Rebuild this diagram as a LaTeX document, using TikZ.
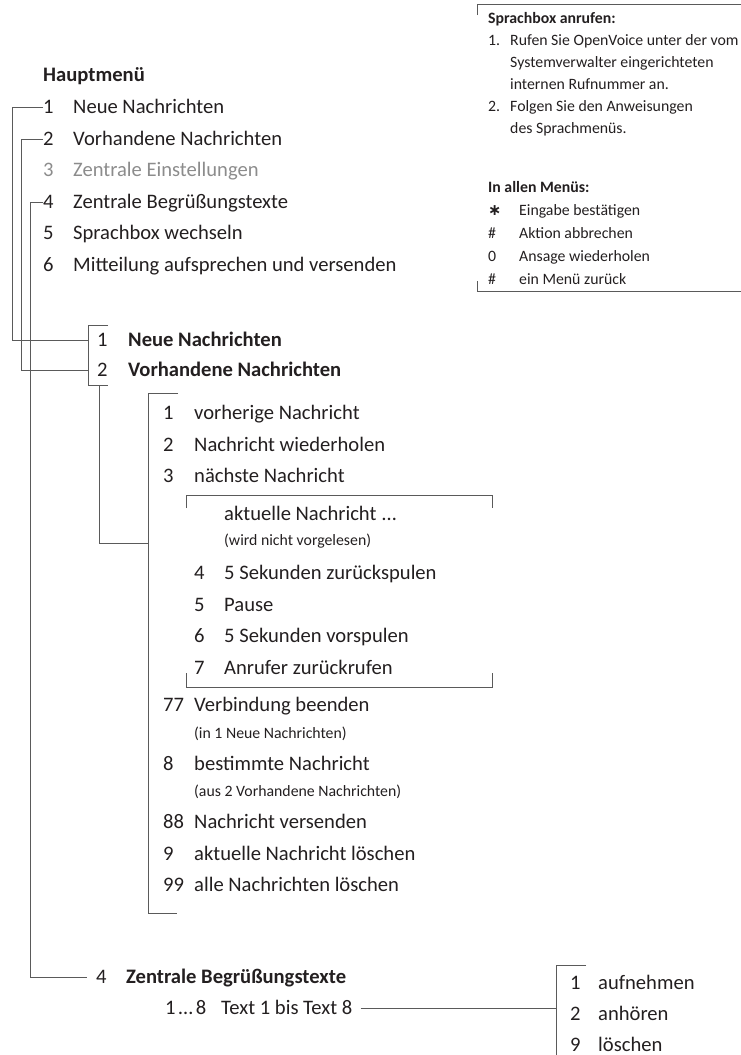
\documentclass[tikz,border=0pt]{standalone}
\usepackage{fontspec}
\setmainfont{Carlito}
\newfontfamily\symfont{DejaVu Sans}
\definecolor{ink}{HTML}{231F20}
\definecolor{rulegrey}{HTML}{5A5A5A}
\definecolor{greyed}{HTML}{8C8C8C}
\begin{document}
\begin{tikzpicture}[x=1pt,y=-1pt,
    every node/.style={inner sep=0pt,text=ink},
    entry/.style={anchor=west,text height=12pt,text depth=0pt,
      font=\fontsize{20.6}{24}\selectfont},
    head/.style={entry,font=\fontsize{20.6}{24}\selectfont\bfseries},
    note/.style={anchor=base west,font=\fontsize{15.8}{19}\selectfont},
    boxhead/.style={note,font=\fontsize{15.8}{19}\selectfont\bfseries},
    wire/.style={draw=rulegrey,line width=0.9pt}]
  \useasboundingbox (0,0) rectangle (740,1055);
  % main menu
  \draw
    (43,75.7) node[head] (hm){Hauptmenü}
    (43,107.5) node[entry] (m1n){1}  (73,107.5) node[entry] (m1){Neue Nachrichten}
    (43,139.1) node[entry] (m2n){2}  (73,139.1) node[entry] (m2){Vorhandene Nachrichten}
    (43,170.7) node[entry,text=greyed] (m3n){3}  (73,170.7) node[entry,text=greyed] (m3){Zentrale Einstellungen}
    (43,202.3) node[entry] (m4n){4}  (73,202.3) node[entry] (m4){Zentrale Begrüßungstexte}
    (43,233.9) node[entry] (m5n){5}  (73,233.9) node[entry] (m5){Sprachbox wechseln}
    (43,265.5) node[entry] (m6n){6}  (73,265.5) node[entry] (m6){Mitteilung aufsprechen und versenden};
  % info box
  \draw
    (488,23) node[boxhead] (bh1){Sprachbox anrufen:}
    (488,45) node[note] (b1n){1.}  (510,45) node[note] (b1){Rufen Sie OpenVoice unter der vom}
    (510,67) node[note] (b1b){Systemverwalter eingerichteten}
    (510,89) node[note] (b1c){internen Rufnummer an.}
    (488,111) node[note] (b2n){2.}  (510,111) node[note] (b2){Folgen Sie den Anweisungen}
    (510,133) node[note] (b2b){des Sprachmenüs.}
    (488,192) node[boxhead] (bh2){In allen Menüs:}
    (488,215) node[note] (k1n){\symfont\bfseries ∗}  (519,215) node[note] (k1){Eingabe bestätigen}
    (488,238) node[note] (k2n){\#}  (519,238) node[note] (k2){Aktion abbrechen}
    (488,261) node[note] (k3n){0}  (519,261) node[note] (k3){Ansage wiederholen}
    (488,284) node[note] (k4n){\#}  (519,284) node[note] (k4){ein Menü zurück};
  % submenu 1 and 2
  \draw
    (97,340) node[entry] (s1n){1}  (128,340) node[head] (s1){Neue Nachrichten}
    (97,370.5) node[entry] (s2n){2}  (128,370.5) node[head] (s2){Vorhandene Nachrichten};
  % message menu
  \draw
    (163,413.3) node[entry] (n1n){1}  (194,413.3) node[entry] (n1){vorherige Nachricht}
    (163,445) node[entry] (n2n){2}  (194,445) node[entry] (n2){Nachricht wiederholen}
    (163,476.7) node[entry] (n3n){3}  (194,476.7) node[entry] (n3){nächste Nachricht}
    (224,514) node[entry] (cur){aktuelle Nachricht \hspace{1pt}…}
    (224,545) node[note] (curnote){(wird nicht vorgelesen)}
    (194,573.3) node[entry] (c4n){4}  (224,573.3) node[entry] (c4){5 Sekunden zurückspulen}
    (194,605) node[entry] (c5n){5}  (224,605) node[entry] (c5){Pause}
    (194,636.7) node[entry] (c6n){6}  (224,636.7) node[entry] (c6){5 Sekunden vorspulen}
    (194,668.4) node[entry] (c7n){7}  (224,668.4) node[entry] (c7){Anrufer zurückrufen}
    (163,705.7) node[entry] (n77n){77}  (194,705.7) node[entry] (n77){Verbindung beenden}
    (194,738) node[note] (n77note){(in 1 Neue Nachrichten)}
    (163,764.7) node[entry] (n8n){8}  (194,764.7) node[entry] (n8){bestimmte Nachricht}
    (194,796) node[note] (n8note){(aus 2 Vorhandene Nachrichten)}
    (163,822) node[entry] (n88n){88}  (194,822) node[entry] (n88){Nachricht versenden}
    (163,854) node[entry] (n9n){9}  (194,854) node[entry] (n9){aktuelle Nachricht löschen}
    (163,885.7) node[entry] (n99n){99}  (194,885.7) node[entry] (n99){alle Nachrichten löschen};
  % greetings menu
  \draw
    (96,977.3) node[entry] (z4n){4}  (126,977.3) node[head] (z4){Zentrale Begrüßungstexte}
    (165,1008) node[entry] (t8n){1\hspace{3pt}…\hspace{3pt}8}  (221,1008) node[entry] (t8){Text 1 bis Text 8}
    (570,983.3) node[entry] (g1n){1}  (598,983.3) node[entry] (g1){aufnehmen}
    (570,1014) node[entry] (g2n){2}  (598,1014) node[entry] (g2){anhören}
    (570,1045.7) node[entry] (g9n){9}  (598,1045.7) node[entry] (g9){löschen};
  \coordinate (rail1) at (12,0);
  \coordinate (rail2) at (21,0);
  \coordinate (rail4) at (30,0);
  \coordinate (sbtop) at (88,325);
  \coordinate (sbbot) at (88,385);
  \coordinate (drop) at (99,385);
  \coordinate (ssbtop) at (148,393);
  \coordinate (ssbbot) at (148,913);
  \coordinate (join) at (148,543);
  \coordinate (ibtl) at (186,495);
  \coordinate (ibbr) at (492,687);
  \coordinate (rbar) at (556,965);
  \coordinate (rbend) at (556,1056);
  \coordinate (boxtl) at (477,4);
  \coordinate (boxbr) at (741,291);
  \begin{scope}[wire]
    \draw (m1n.west) -- (rail1 |- m1n.west) |- (sbtop |- s1n.west);
    \draw (m2n.west) -- (rail2 |- m2n.west) |- (sbtop |- s2n.west);
    \draw (m4n.west) -- (rail4 |- m4n.west) |- ([xshift=-9pt]z4n.west);
    \draw ([xshift=20pt]sbtop) -- (sbtop) -- (sbbot) -- ++(20,0);
    \draw (drop) |- (join);
    \draw ([xshift=30pt]ssbtop) -- (ssbtop) -- (ssbbot) -- ++(29,0);
    \draw (ibtl) ++(0,13) -- (ibtl) -- (ibtl -| ibbr) -- ++(0,13);
    \draw (ibbr) ++(0,-14) -- (ibbr) -- (ibbr -| ibtl) -- ++(0,-14);
    \draw ([xshift=8pt]t8.east) -- (rbar |- t8.east);
    \draw ([xshift=30pt]rbar) -- (rbar) -- (rbend);
    \draw (boxtl) ++(0,11) -- (boxtl) -- (boxtl -| boxbr);
    \draw (boxbr -| boxtl) ++(0,-10) -- (boxbr -| boxtl) -- (boxbr);
  \end{scope}
\end{tikzpicture}
\end{document}
